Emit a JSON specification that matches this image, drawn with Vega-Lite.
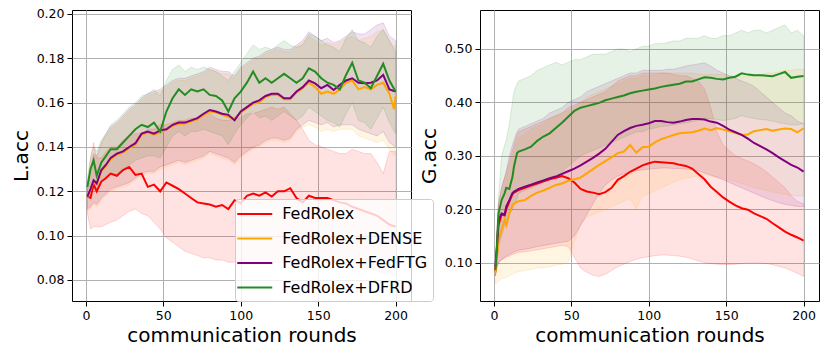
{
"$schema": "https://vega.github.io/schema/vega-lite/v6.json",
"padding": {"left": 10, "top": 7, "right": 5, "bottom": 5},
"config": {
  "font": "DejaVu Sans",
  "view": {"stroke": "black", "strokeWidth": 1},
  "axis": {"labelFont": "DejaVu Sans", "labelFontSize": 12.5, "labelColor": "black", "titleFont": "DejaVu Sans", "titleFontSize": 20, "titleFontWeight": "normal", "titleColor": "black", "tickColor": "black", "tickSize": 5, "tickWidth": 1, "labelPadding": 3, "domain": false, "gridColor": "#b0b0b0", "gridWidth": 1, "gridOpacity": 1, "labelFlush": false, "labelOverlap": false}
},
"datasets": {
"L": [
{"s":"R","r":1,"m":0.1176,"l":0.110,"h":0.121},{"s":"R","r":3,"m":0.117,"l":0.103,"h":0.135},{"s":"R","r":5,"m":0.123,"l":0.104,"h":0.142},{"s":"R","r":7,"m":0.120,"l":0.104,"h":0.135},{"s":"R","r":10,"m":0.1244,"l":0.104,"h":0.135},{"s":"R","r":13,"m":0.126,"l":0.105,"h":0.138},{"s":"R","r":16,"m":0.128,"l":0.106,"h":0.140},{"s":"R","r":20,"m":0.127,"l":0.107,"h":0.140},{"s":"R","r":24,"m":0.1296,"l":0.109,"h":0.143},{"s":"R","r":28,"m":0.131,"l":0.111,"h":0.145},{"s":"R","r":32,"m":0.1274,"l":0.112,"h":0.146},{"s":"R","r":36,"m":0.128,"l":0.110,"h":0.146},{"s":"R","r":40,"m":0.122,"l":0.109,"h":0.148},{"s":"R","r":44,"m":0.123,"l":0.106,"h":0.148},{"s":"R","r":48,"m":0.120,"l":0.103,"h":0.150},{"s":"R","r":52,"m":0.124,"l":0.099,"h":0.150},{"s":"R","r":56,"m":0.1225,"l":0.097,"h":0.151},{"s":"R","r":60,"m":0.121,"l":0.095,"h":0.152},{"s":"R","r":64,"m":0.119,"l":0.093,"h":0.152},{"s":"R","r":68,"m":0.117,"l":0.092,"h":0.153},{"s":"R","r":72,"m":0.115,"l":0.091,"h":0.153},{"s":"R","r":76,"m":0.1145,"l":0.090,"h":0.155},{"s":"R","r":80,"m":0.114,"l":0.090,"h":0.155},{"s":"R","r":84,"m":0.113,"l":0.089,"h":0.153},{"s":"R","r":88,"m":0.1138,"l":0.089,"h":0.152},{"s":"R","r":92,"m":0.112,"l":0.088,"h":0.152},{"s":"R","r":96,"m":0.116,"l":0.088,"h":0.153},{"s":"R","r":100,"m":0.1146,"l":0.088,"h":0.153},{"s":"R","r":104,"m":0.118,"l":0.088,"h":0.155},{"s":"R","r":108,"m":0.119,"l":0.088,"h":0.155},{"s":"R","r":112,"m":0.118,"l":0.088,"h":0.156},{"s":"R","r":116,"m":0.1195,"l":0.088,"h":0.157},{"s":"R","r":120,"m":0.1176,"l":0.088,"h":0.158},{"s":"R","r":124,"m":0.120,"l":0.088,"h":0.157},{"s":"R","r":128,"m":0.120,"l":0.088,"h":0.158},{"s":"R","r":132,"m":0.1214,"l":0.088,"h":0.155},{"s":"R","r":136,"m":0.117,"l":0.088,"h":0.152},{"s":"R","r":140,"m":0.115,"l":0.088,"h":0.148},{"s":"R","r":144,"m":0.118,"l":0.088,"h":0.143},{"s":"R","r":148,"m":0.117,"l":0.088,"h":0.141},{"s":"R","r":152,"m":0.117,"l":0.088,"h":0.140},{"s":"R","r":156,"m":0.117,"l":0.088,"h":0.139},{"s":"R","r":160,"m":0.116,"l":0.088,"h":0.138},{"s":"R","r":164,"m":0.115,"l":0.087,"h":0.137},{"s":"R","r":168,"m":0.1145,"l":0.087,"h":0.137},{"s":"R","r":172,"m":0.113,"l":0.086,"h":0.139},{"s":"R","r":176,"m":0.112,"l":0.086,"h":0.138},{"s":"R","r":180,"m":0.111,"l":0.085,"h":0.137},{"s":"R","r":184,"m":0.110,"l":0.085,"h":0.137},{"s":"R","r":188,"m":0.109,"l":0.084,"h":0.133},{"s":"R","r":192,"m":0.107,"l":0.083,"h":0.128},{"s":"R","r":196,"m":0.105,"l":0.083,"h":0.138},{"s":"R","r":200,"m":0.104,"l":0.082,"h":0.138},
{"s":"D","r":1,"m":0.1172,"l":0.111,"h":0.123},{"s":"D","r":3,"m":0.1205,"l":0.112,"h":0.130},{"s":"D","r":5,"m":0.1245,"l":0.114,"h":0.136},{"s":"D","r":7,"m":0.123,"l":0.113,"h":0.135},{"s":"D","r":10,"m":0.129,"l":0.116,"h":0.141},{"s":"D","r":13,"m":0.1315,"l":0.118,"h":0.145},{"s":"D","r":16,"m":0.1345,"l":0.120,"h":0.148},{"s":"D","r":20,"m":0.1365,"l":0.121,"h":0.150},{"s":"D","r":24,"m":0.1375,"l":0.122,"h":0.153},{"s":"D","r":28,"m":0.1395,"l":0.123,"h":0.156},{"s":"D","r":32,"m":0.141,"l":0.125,"h":0.158},{"s":"D","r":36,"m":0.1455,"l":0.127,"h":0.161},{"s":"D","r":40,"m":0.1465,"l":0.128,"h":0.163},{"s":"D","r":44,"m":0.1455,"l":0.128,"h":0.164},{"s":"D","r":48,"m":0.1465,"l":0.130,"h":0.165},{"s":"D","r":52,"m":0.1478,"l":0.131,"h":0.167},{"s":"D","r":56,"m":0.1495,"l":0.132,"h":0.169},{"s":"D","r":60,"m":0.1505,"l":0.133,"h":0.170},{"s":"D","r":64,"m":0.1505,"l":0.132,"h":0.170},{"s":"D","r":68,"m":0.1515,"l":0.133,"h":0.171},{"s":"D","r":72,"m":0.1525,"l":0.134,"h":0.172},{"s":"D","r":76,"m":0.1545,"l":0.135,"h":0.173},{"s":"D","r":80,"m":0.156,"l":0.137,"h":0.175},{"s":"D","r":84,"m":0.1555,"l":0.136,"h":0.174},{"s":"D","r":88,"m":0.1545,"l":0.135,"h":0.173},{"s":"D","r":92,"m":0.1535,"l":0.134,"h":0.173},{"s":"D","r":96,"m":0.153,"l":0.132,"h":0.171},{"s":"D","r":100,"m":0.1555,"l":0.135,"h":0.175},{"s":"D","r":104,"m":0.1575,"l":0.137,"h":0.177},{"s":"D","r":108,"m":0.1595,"l":0.139,"h":0.179},{"s":"D","r":112,"m":0.160,"l":0.140,"h":0.180},{"s":"D","r":116,"m":0.1625,"l":0.142,"h":0.182},{"s":"D","r":120,"m":0.1635,"l":0.143,"h":0.183},{"s":"D","r":124,"m":0.1635,"l":0.143,"h":0.184},{"s":"D","r":128,"m":0.1615,"l":0.142,"h":0.183},{"s":"D","r":132,"m":0.1615,"l":0.143,"h":0.183},{"s":"D","r":136,"m":0.1645,"l":0.147,"h":0.185},{"s":"D","r":140,"m":0.1665,"l":0.149,"h":0.187},{"s":"D","r":144,"m":0.169,"l":0.150,"h":0.190},{"s":"D","r":148,"m":0.167,"l":0.149,"h":0.188},{"s":"D","r":152,"m":0.164,"l":0.147,"h":0.186},{"s":"D","r":156,"m":0.165,"l":0.148,"h":0.187},{"s":"D","r":160,"m":0.164,"l":0.147,"h":0.186},{"s":"D","r":164,"m":0.166,"l":0.148,"h":0.187},{"s":"D","r":168,"m":0.169,"l":0.148,"h":0.189},{"s":"D","r":172,"m":0.170,"l":0.148,"h":0.190},{"s":"D","r":176,"m":0.166,"l":0.145,"h":0.188},{"s":"D","r":180,"m":0.167,"l":0.144,"h":0.189},{"s":"D","r":184,"m":0.166,"l":0.143,"h":0.190},{"s":"D","r":188,"m":0.168,"l":0.142,"h":0.192},{"s":"D","r":192,"m":0.169,"l":0.143,"h":0.193},{"s":"D","r":196,"m":0.164,"l":0.139,"h":0.188},{"s":"D","r":199,"m":0.157,"l":0.136,"h":0.185},{"s":"D","r":200,"m":0.163,"l":0.137,"h":0.186},
{"s":"F","r":1,"m":0.1176,"l":0.112,"h":0.123},{"s":"F","r":3,"m":0.121,"l":0.113,"h":0.130},{"s":"F","r":5,"m":0.125,"l":0.115,"h":0.137},{"s":"F","r":7,"m":0.1236,"l":0.114,"h":0.136},{"s":"F","r":10,"m":0.1296,"l":0.117,"h":0.142},{"s":"F","r":13,"m":0.132,"l":0.119,"h":0.146},{"s":"F","r":16,"m":0.135,"l":0.121,"h":0.149},{"s":"F","r":20,"m":0.137,"l":0.122,"h":0.151},{"s":"F","r":24,"m":0.138,"l":0.123,"h":0.154},{"s":"F","r":28,"m":0.140,"l":0.124,"h":0.157},{"s":"F","r":32,"m":0.1417,"l":0.126,"h":0.159},{"s":"F","r":36,"m":0.146,"l":0.128,"h":0.162},{"s":"F","r":40,"m":0.147,"l":0.129,"h":0.164},{"s":"F","r":44,"m":0.146,"l":0.129,"h":0.165},{"s":"F","r":48,"m":0.1475,"l":0.131,"h":0.166},{"s":"F","r":52,"m":0.148,"l":0.132,"h":0.168},{"s":"F","r":56,"m":0.150,"l":0.133,"h":0.170},{"s":"F","r":60,"m":0.151,"l":0.134,"h":0.171},{"s":"F","r":64,"m":0.151,"l":0.133,"h":0.171},{"s":"F","r":68,"m":0.152,"l":0.134,"h":0.172},{"s":"F","r":72,"m":0.153,"l":0.135,"h":0.173},{"s":"F","r":76,"m":0.155,"l":0.136,"h":0.174},{"s":"F","r":80,"m":0.1567,"l":0.138,"h":0.176},{"s":"F","r":84,"m":0.156,"l":0.137,"h":0.175},{"s":"F","r":88,"m":0.155,"l":0.136,"h":0.174},{"s":"F","r":92,"m":0.1545,"l":0.135,"h":0.174},{"s":"F","r":96,"m":0.152,"l":0.133,"h":0.172},{"s":"F","r":100,"m":0.156,"l":0.136,"h":0.176},{"s":"F","r":104,"m":0.158,"l":0.138,"h":0.178},{"s":"F","r":108,"m":0.160,"l":0.140,"h":0.180},{"s":"F","r":112,"m":0.161,"l":0.141,"h":0.181},{"s":"F","r":116,"m":0.163,"l":0.143,"h":0.183},{"s":"F","r":120,"m":0.164,"l":0.144,"h":0.184},{"s":"F","r":124,"m":0.164,"l":0.144,"h":0.185},{"s":"F","r":128,"m":0.162,"l":0.143,"h":0.184},{"s":"F","r":132,"m":0.162,"l":0.144,"h":0.184},{"s":"F","r":136,"m":0.165,"l":0.148,"h":0.186},{"s":"F","r":140,"m":0.167,"l":0.150,"h":0.188},{"s":"F","r":144,"m":0.170,"l":0.152,"h":0.192},{"s":"F","r":148,"m":0.1687,"l":0.151,"h":0.190},{"s":"F","r":152,"m":0.1665,"l":0.150,"h":0.188},{"s":"F","r":156,"m":0.168,"l":0.151,"h":0.189},{"s":"F","r":160,"m":0.1657,"l":0.149,"h":0.187},{"s":"F","r":164,"m":0.168,"l":0.150,"h":0.188},{"s":"F","r":168,"m":0.170,"l":0.150,"h":0.190},{"s":"F","r":172,"m":0.171,"l":0.150,"h":0.192},{"s":"F","r":176,"m":0.169,"l":0.148,"h":0.191},{"s":"F","r":180,"m":0.1687,"l":0.147,"h":0.191},{"s":"F","r":184,"m":0.169,"l":0.146,"h":0.193},{"s":"F","r":188,"m":0.170,"l":0.145,"h":0.195},{"s":"F","r":192,"m":0.1725,"l":0.147,"h":0.196},{"s":"F","r":196,"m":0.166,"l":0.142,"h":0.190},{"s":"F","r":200,"m":0.165,"l":0.140,"h":0.188},
{"s":"G","r":1,"m":0.122,"l":0.118,"h":0.126},{"s":"G","r":3,"m":0.130,"l":0.120,"h":0.135},{"s":"G","r":5,"m":0.134,"l":0.123,"h":0.140},{"s":"G","r":7,"m":0.127,"l":0.121,"h":0.138},{"s":"G","r":10,"m":0.133,"l":0.124,"h":0.143},{"s":"G","r":13,"m":0.136,"l":0.126,"h":0.146},{"s":"G","r":16,"m":0.139,"l":0.128,"h":0.150},{"s":"G","r":20,"m":0.139,"l":0.128,"h":0.152},{"s":"G","r":24,"m":0.142,"l":0.130,"h":0.155},{"s":"G","r":28,"m":0.145,"l":0.132,"h":0.158},{"s":"G","r":32,"m":0.148,"l":0.134,"h":0.160},{"s":"G","r":36,"m":0.150,"l":0.135,"h":0.163},{"s":"G","r":40,"m":0.149,"l":0.136,"h":0.164},{"s":"G","r":44,"m":0.151,"l":0.136,"h":0.166},{"s":"G","r":48,"m":0.147,"l":0.135,"h":0.163},{"s":"G","r":52,"m":0.156,"l":0.140,"h":0.170},{"s":"G","r":56,"m":0.162,"l":0.145,"h":0.175},{"s":"G","r":60,"m":0.166,"l":0.147,"h":0.177},{"s":"G","r":64,"m":0.1635,"l":0.145,"h":0.174},{"s":"G","r":68,"m":0.166,"l":0.147,"h":0.176},{"s":"G","r":72,"m":0.165,"l":0.147,"h":0.175},{"s":"G","r":76,"m":0.166,"l":0.148,"h":0.176},{"s":"G","r":80,"m":0.1635,"l":0.147,"h":0.175},{"s":"G","r":84,"m":0.163,"l":0.146,"h":0.174},{"s":"G","r":88,"m":0.161,"l":0.145,"h":0.172},{"s":"G","r":92,"m":0.156,"l":0.141,"h":0.170},{"s":"G","r":96,"m":0.162,"l":0.146,"h":0.174},{"s":"G","r":100,"m":0.165,"l":0.150,"h":0.178},{"s":"G","r":104,"m":0.169,"l":0.153,"h":0.182},{"s":"G","r":108,"m":0.174,"l":0.156,"h":0.186},{"s":"G","r":112,"m":0.169,"l":0.153,"h":0.184},{"s":"G","r":116,"m":0.171,"l":0.154,"h":0.185},{"s":"G","r":120,"m":0.169,"l":0.152,"h":0.184},{"s":"G","r":124,"m":0.171,"l":0.154,"h":0.186},{"s":"G","r":128,"m":0.173,"l":0.156,"h":0.188},{"s":"G","r":132,"m":0.171,"l":0.154,"h":0.186},{"s":"G","r":136,"m":0.169,"l":0.152,"h":0.185},{"s":"G","r":140,"m":0.171,"l":0.154,"h":0.186},{"s":"G","r":144,"m":0.1755,"l":0.158,"h":0.191},{"s":"G","r":148,"m":0.174,"l":0.156,"h":0.190},{"s":"G","r":152,"m":0.171,"l":0.154,"h":0.188},{"s":"G","r":156,"m":0.169,"l":0.152,"h":0.186},{"s":"G","r":160,"m":0.168,"l":0.151,"h":0.185},{"s":"G","r":164,"m":0.166,"l":0.149,"h":0.183},{"s":"G","r":168,"m":0.1725,"l":0.155,"h":0.189},{"s":"G","r":172,"m":0.178,"l":0.160,"h":0.193},{"s":"G","r":176,"m":0.170,"l":0.152,"h":0.188},{"s":"G","r":180,"m":0.169,"l":0.151,"h":0.187},{"s":"G","r":184,"m":0.1665,"l":0.148,"h":0.185},{"s":"G","r":188,"m":0.172,"l":0.153,"h":0.190},{"s":"G","r":192,"m":0.1775,"l":0.158,"h":0.193},{"s":"G","r":196,"m":0.170,"l":0.151,"h":0.188},{"s":"G","r":200,"m":0.165,"l":0.146,"h":0.183}
],
"G": [
{"s":"R","r":1,"m":0.083,"l":0.075,"h":0.095},{"s":"R","r":2,"m":0.125,"l":0.09,"h":0.16},{"s":"R","r":3,"m":0.17,"l":0.10,"h":0.21},{"s":"R","r":5,"m":0.19,"l":0.105,"h":0.24},{"s":"R","r":7,"m":0.188,"l":0.108,"h":0.26},{"s":"R","r":8,"m":0.2,"l":0.11,"h":0.27},{"s":"R","r":10,"m":0.214,"l":0.112,"h":0.29},{"s":"R","r":12,"m":0.228,"l":0.115,"h":0.31},{"s":"R","r":13,"m":0.231,"l":0.116,"h":0.32},{"s":"R","r":15,"m":0.234,"l":0.118,"h":0.34},{"s":"R","r":16,"m":0.236,"l":0.119,"h":0.345},{"s":"R","r":20,"m":0.240,"l":0.12,"h":0.35},{"s":"R","r":24,"m":0.244,"l":0.122,"h":0.355},{"s":"R","r":28,"m":0.248,"l":0.124,"h":0.36},{"s":"R","r":32,"m":0.252,"l":0.126,"h":0.365},{"s":"R","r":36,"m":0.256,"l":0.128,"h":0.37},{"s":"R","r":40,"m":0.259,"l":0.13,"h":0.375},{"s":"R","r":44,"m":0.262,"l":0.132,"h":0.38},{"s":"R","r":48,"m":0.258,"l":0.13,"h":0.39},{"s":"R","r":52,"m":0.250,"l":0.11,"h":0.395},{"s":"R","r":56,"m":0.238,"l":0.09,"h":0.40},{"s":"R","r":60,"m":0.233,"l":0.082,"h":0.405},{"s":"R","r":64,"m":0.231,"l":0.076,"h":0.41},{"s":"R","r":68,"m":0.228,"l":0.074,"h":0.415},{"s":"R","r":72,"m":0.232,"l":0.078,"h":0.42},{"s":"R","r":76,"m":0.240,"l":0.085,"h":0.43},{"s":"R","r":80,"m":0.255,"l":0.092,"h":0.44},{"s":"R","r":84,"m":0.262,"l":0.097,"h":0.445},{"s":"R","r":88,"m":0.270,"l":0.102,"h":0.45},{"s":"R","r":92,"m":0.276,"l":0.106,"h":0.45},{"s":"R","r":96,"m":0.282,"l":0.109,"h":0.455},{"s":"R","r":100,"m":0.286,"l":0.111,"h":0.455},{"s":"R","r":104,"m":0.289,"l":0.113,"h":0.455},{"s":"R","r":108,"m":0.288,"l":0.114,"h":0.455},{"s":"R","r":112,"m":0.287,"l":0.114,"h":0.455},{"s":"R","r":116,"m":0.286,"l":0.113,"h":0.452},{"s":"R","r":120,"m":0.283,"l":0.112,"h":0.45},{"s":"R","r":124,"m":0.281,"l":0.11,"h":0.45},{"s":"R","r":128,"m":0.276,"l":0.107,"h":0.445},{"s":"R","r":132,"m":0.266,"l":0.103,"h":0.44},{"s":"R","r":136,"m":0.256,"l":0.10,"h":0.425},{"s":"R","r":140,"m":0.242,"l":0.098,"h":0.39},{"s":"R","r":144,"m":0.232,"l":0.097,"h":0.345},{"s":"R","r":148,"m":0.222,"l":0.096,"h":0.32},{"s":"R","r":152,"m":0.214,"l":0.096,"h":0.31},{"s":"R","r":156,"m":0.207,"l":0.097,"h":0.30},{"s":"R","r":160,"m":0.2017,"l":0.098,"h":0.295},{"s":"R","r":164,"m":0.199,"l":0.099,"h":0.29},{"s":"R","r":168,"m":0.192,"l":0.099,"h":0.285},{"s":"R","r":172,"m":0.187,"l":0.099,"h":0.278},{"s":"R","r":176,"m":0.182,"l":0.098,"h":0.27},{"s":"R","r":180,"m":0.1736,"l":0.096,"h":0.26},{"s":"R","r":184,"m":0.166,"l":0.093,"h":0.25},{"s":"R","r":188,"m":0.158,"l":0.09,"h":0.24},{"s":"R","r":192,"m":0.152,"l":0.085,"h":0.225},{"s":"R","r":196,"m":0.147,"l":0.08,"h":0.215},{"s":"R","r":200,"m":0.141,"l":0.074,"h":0.21},
{"s":"D","r":1,"m":0.080,"l":0.06,"h":0.09},{"s":"D","r":2,"m":0.11,"l":0.062,"h":0.13},{"s":"D","r":3,"m":0.142,"l":0.065,"h":0.17},{"s":"D","r":5,"m":0.161,"l":0.07,"h":0.22},{"s":"D","r":7,"m":0.18,"l":0.07,"h":0.25},{"s":"D","r":8,"m":0.17,"l":0.072,"h":0.26},{"s":"D","r":10,"m":0.192,"l":0.075,"h":0.28},{"s":"D","r":12,"m":0.208,"l":0.078,"h":0.30},{"s":"D","r":13,"m":0.21,"l":0.08,"h":0.31},{"s":"D","r":15,"m":0.214,"l":0.082,"h":0.33},{"s":"D","r":16,"m":0.215,"l":0.083,"h":0.335},{"s":"D","r":20,"m":0.217,"l":0.085,"h":0.34},{"s":"D","r":24,"m":0.225,"l":0.087,"h":0.35},{"s":"D","r":28,"m":0.231,"l":0.09,"h":0.355},{"s":"D","r":32,"m":0.235,"l":0.09,"h":0.36},{"s":"D","r":36,"m":0.240,"l":0.092,"h":0.37},{"s":"D","r":40,"m":0.2454,"l":0.095,"h":0.375},{"s":"D","r":44,"m":0.248,"l":0.097,"h":0.38},{"s":"D","r":48,"m":0.253,"l":0.10,"h":0.385},{"s":"D","r":52,"m":0.256,"l":0.14,"h":0.39},{"s":"D","r":56,"m":0.259,"l":0.17,"h":0.40},{"s":"D","r":60,"m":0.267,"l":0.185,"h":0.41},{"s":"D","r":64,"m":0.275,"l":0.19,"h":0.415},{"s":"D","r":68,"m":0.283,"l":0.195,"h":0.42},{"s":"D","r":72,"m":0.290,"l":0.20,"h":0.425},{"s":"D","r":76,"m":0.297,"l":0.205,"h":0.43},{"s":"D","r":80,"m":0.305,"l":0.21,"h":0.435},{"s":"D","r":84,"m":0.308,"l":0.215,"h":0.44},{"s":"D","r":88,"m":0.32,"l":0.22,"h":0.445},{"s":"D","r":92,"m":0.306,"l":0.20,"h":0.445},{"s":"D","r":96,"m":0.316,"l":0.225,"h":0.45},{"s":"D","r":100,"m":0.317,"l":0.228,"h":0.45},{"s":"D","r":104,"m":0.325,"l":0.235,"h":0.452},{"s":"D","r":108,"m":0.331,"l":0.24,"h":0.455},{"s":"D","r":112,"m":0.335,"l":0.245,"h":0.455},{"s":"D","r":116,"m":0.339,"l":0.25,"h":0.455},{"s":"D","r":120,"m":0.342,"l":0.255,"h":0.455},{"s":"D","r":124,"m":0.343,"l":0.258,"h":0.455},{"s":"D","r":128,"m":0.344,"l":0.26,"h":0.455},{"s":"D","r":132,"m":0.347,"l":0.262,"h":0.453},{"s":"D","r":136,"m":0.351,"l":0.265,"h":0.452},{"s":"D","r":140,"m":0.348,"l":0.262,"h":0.452},{"s":"D","r":144,"m":0.352,"l":0.26,"h":0.452},{"s":"D","r":148,"m":0.349,"l":0.258,"h":0.452},{"s":"D","r":152,"m":0.346,"l":0.255,"h":0.45},{"s":"D","r":156,"m":0.343,"l":0.252,"h":0.45},{"s":"D","r":160,"m":0.339,"l":0.248,"h":0.448},{"s":"D","r":164,"m":0.340,"l":0.245,"h":0.448},{"s":"D","r":168,"m":0.346,"l":0.24,"h":0.45},{"s":"D","r":172,"m":0.348,"l":0.238,"h":0.452},{"s":"D","r":176,"m":0.350,"l":0.235,"h":0.455},{"s":"D","r":180,"m":0.347,"l":0.232,"h":0.455},{"s":"D","r":184,"m":0.349,"l":0.23,"h":0.457},{"s":"D","r":188,"m":0.351,"l":0.228,"h":0.46},{"s":"D","r":192,"m":0.350,"l":0.226,"h":0.46},{"s":"D","r":196,"m":0.344,"l":0.225,"h":0.462},{"s":"D","r":200,"m":0.3515,"l":0.225,"h":0.462},
{"s":"F","r":1,"m":0.0925,"l":0.075,"h":0.10},{"s":"F","r":2,"m":0.13,"l":0.09,"h":0.16},{"s":"F","r":3,"m":0.18,"l":0.10,"h":0.21},{"s":"F","r":5,"m":0.192,"l":0.105,"h":0.24},{"s":"F","r":7,"m":0.19,"l":0.11,"h":0.26},{"s":"F","r":8,"m":0.205,"l":0.112,"h":0.27},{"s":"F","r":10,"m":0.217,"l":0.115,"h":0.30},{"s":"F","r":12,"m":0.23,"l":0.118,"h":0.32},{"s":"F","r":13,"m":0.233,"l":0.12,"h":0.33},{"s":"F","r":15,"m":0.236,"l":0.122,"h":0.345},{"s":"F","r":16,"m":0.238,"l":0.123,"h":0.35},{"s":"F","r":20,"m":0.242,"l":0.125,"h":0.355},{"s":"F","r":24,"m":0.246,"l":0.127,"h":0.36},{"s":"F","r":28,"m":0.250,"l":0.13,"h":0.365},{"s":"F","r":32,"m":0.254,"l":0.132,"h":0.37},{"s":"F","r":36,"m":0.258,"l":0.134,"h":0.38},{"s":"F","r":40,"m":0.261,"l":0.136,"h":0.385},{"s":"F","r":44,"m":0.266,"l":0.138,"h":0.39},{"s":"F","r":48,"m":0.271,"l":0.14,"h":0.40},{"s":"F","r":52,"m":0.276,"l":0.15,"h":0.405},{"s":"F","r":56,"m":0.282,"l":0.17,"h":0.41},{"s":"F","r":60,"m":0.289,"l":0.19,"h":0.42},{"s":"F","r":64,"m":0.296,"l":0.21,"h":0.425},{"s":"F","r":68,"m":0.304,"l":0.23,"h":0.43},{"s":"F","r":72,"m":0.313,"l":0.245,"h":0.435},{"s":"F","r":76,"m":0.326,"l":0.255,"h":0.44},{"s":"F","r":80,"m":0.339,"l":0.262,"h":0.445},{"s":"F","r":84,"m":0.346,"l":0.266,"h":0.45},{"s":"F","r":88,"m":0.352,"l":0.27,"h":0.455},{"s":"F","r":92,"m":0.356,"l":0.272,"h":0.455},{"s":"F","r":96,"m":0.358,"l":0.274,"h":0.46},{"s":"F","r":100,"m":0.361,"l":0.275,"h":0.46},{"s":"F","r":104,"m":0.365,"l":0.276,"h":0.46},{"s":"F","r":108,"m":0.365,"l":0.277,"h":0.46},{"s":"F","r":112,"m":0.363,"l":0.277,"h":0.462},{"s":"F","r":116,"m":0.362,"l":0.276,"h":0.462},{"s":"F","r":120,"m":0.364,"l":0.276,"h":0.465},{"s":"F","r":124,"m":0.367,"l":0.275,"h":0.468},{"s":"F","r":128,"m":0.369,"l":0.274,"h":0.47},{"s":"F","r":132,"m":0.369,"l":0.272,"h":0.472},{"s":"F","r":136,"m":0.368,"l":0.268,"h":0.474},{"s":"F","r":140,"m":0.364,"l":0.264,"h":0.468},{"s":"F","r":144,"m":0.362,"l":0.26,"h":0.46},{"s":"F","r":148,"m":0.356,"l":0.255,"h":0.455},{"s":"F","r":152,"m":0.349,"l":0.25,"h":0.45},{"s":"F","r":156,"m":0.344,"l":0.245,"h":0.445},{"s":"F","r":160,"m":0.339,"l":0.24,"h":0.44},{"s":"F","r":164,"m":0.332,"l":0.235,"h":0.436},{"s":"F","r":168,"m":0.324,"l":0.23,"h":0.43},{"s":"F","r":172,"m":0.318,"l":0.225,"h":0.42},{"s":"F","r":176,"m":0.312,"l":0.22,"h":0.41},{"s":"F","r":180,"m":0.305,"l":0.216,"h":0.40},{"s":"F","r":184,"m":0.297,"l":0.212,"h":0.39},{"s":"F","r":188,"m":0.290,"l":0.209,"h":0.38},{"s":"F","r":192,"m":0.283,"l":0.207,"h":0.375},{"s":"F","r":196,"m":0.278,"l":0.205,"h":0.365},{"s":"F","r":200,"m":0.2704,"l":0.205,"h":0.36},
{"s":"G","r":1,"m":0.086,"l":0.08,"h":0.095},{"s":"G","r":2,"m":0.13,"l":0.10,"h":0.16},{"s":"G","r":3,"m":0.192,"l":0.13,"h":0.22},{"s":"G","r":5,"m":0.217,"l":0.15,"h":0.30},{"s":"G","r":7,"m":0.23,"l":0.17,"h":0.32},{"s":"G","r":8,"m":0.24,"l":0.18,"h":0.33},{"s":"G","r":10,"m":0.238,"l":0.19,"h":0.36},{"s":"G","r":12,"m":0.26,"l":0.20,"h":0.40},{"s":"G","r":13,"m":0.28,"l":0.21,"h":0.42},{"s":"G","r":15,"m":0.305,"l":0.22,"h":0.435},{"s":"G","r":16,"m":0.308,"l":0.23,"h":0.44},{"s":"G","r":20,"m":0.312,"l":0.235,"h":0.445},{"s":"G","r":24,"m":0.317,"l":0.24,"h":0.45},{"s":"G","r":28,"m":0.328,"l":0.245,"h":0.46},{"s":"G","r":32,"m":0.336,"l":0.25,"h":0.465},{"s":"G","r":36,"m":0.342,"l":0.255,"h":0.47},{"s":"G","r":40,"m":0.352,"l":0.26,"h":0.475},{"s":"G","r":44,"m":0.362,"l":0.27,"h":0.47},{"s":"G","r":48,"m":0.373,"l":0.28,"h":0.475},{"s":"G","r":52,"m":0.384,"l":0.29,"h":0.48},{"s":"G","r":56,"m":0.39,"l":0.30,"h":0.48},{"s":"G","r":60,"m":0.393,"l":0.305,"h":0.485},{"s":"G","r":64,"m":0.396,"l":0.31,"h":0.49},{"s":"G","r":68,"m":0.399,"l":0.315,"h":0.49},{"s":"G","r":72,"m":0.404,"l":0.32,"h":0.49},{"s":"G","r":76,"m":0.407,"l":0.325,"h":0.495},{"s":"G","r":80,"m":0.41,"l":0.33,"h":0.50},{"s":"G","r":84,"m":0.413,"l":0.335,"h":0.50},{"s":"G","r":88,"m":0.417,"l":0.34,"h":0.495},{"s":"G","r":92,"m":0.42,"l":0.345,"h":0.50},{"s":"G","r":96,"m":0.422,"l":0.345,"h":0.505},{"s":"G","r":100,"m":0.424,"l":0.35,"h":0.505},{"s":"G","r":104,"m":0.426,"l":0.352,"h":0.51},{"s":"G","r":108,"m":0.429,"l":0.355,"h":0.51},{"s":"G","r":112,"m":0.431,"l":0.356,"h":0.512},{"s":"G","r":116,"m":0.433,"l":0.358,"h":0.515},{"s":"G","r":120,"m":0.435,"l":0.36,"h":0.515},{"s":"G","r":124,"m":0.439,"l":0.362,"h":0.52},{"s":"G","r":128,"m":0.439,"l":0.364,"h":0.52},{"s":"G","r":132,"m":0.443,"l":0.366,"h":0.52},{"s":"G","r":136,"m":0.447,"l":0.37,"h":0.525},{"s":"G","r":140,"m":0.446,"l":0.37,"h":0.52},{"s":"G","r":144,"m":0.444,"l":0.368,"h":0.52},{"s":"G","r":148,"m":0.443,"l":0.366,"h":0.525},{"s":"G","r":152,"m":0.446,"l":0.368,"h":0.525},{"s":"G","r":156,"m":0.448,"l":0.37,"h":0.53},{"s":"G","r":160,"m":0.4545,"l":0.375,"h":0.535},{"s":"G","r":164,"m":0.452,"l":0.372,"h":0.53},{"s":"G","r":168,"m":0.451,"l":0.37,"h":0.535},{"s":"G","r":172,"m":0.451,"l":0.368,"h":0.535},{"s":"G","r":176,"m":0.450,"l":0.367,"h":0.53},{"s":"G","r":180,"m":0.449,"l":0.365,"h":0.535},{"s":"G","r":184,"m":0.453,"l":0.362,"h":0.54},{"s":"G","r":188,"m":0.457,"l":0.36,"h":0.545},{"s":"G","r":192,"m":0.446,"l":0.358,"h":0.53},{"s":"G","r":196,"m":0.448,"l":0.358,"h":0.535},{"s":"G","r":200,"m":0.4495,"l":0.36,"h":0.525}
]
},
"spacing": 69,
"bounds": "flush",
"resolve": {"scale": {"color": "independent"}, "legend": {"color": "independent"}},
"hconcat": [
{
  "width": 339, "height": 291,
  "data": {"name": "L"},
  "encoding": {
    "x": {"field": "r", "type": "quantitative", "scale": {"domain": [-8.95, 209.95], "nice": false, "zero": false}, "axis": {"values": [0, 50, 100, 150, 200], "title": "communication rounds", "titlePadding": 4}}
  },
  "layer": [
    {
      "mark": {"type": "area", "fillOpacity": 0.11, "strokeOpacity": 0.15, "strokeWidth": 1},
      "encoding": {
        "y": {"field": "l", "type": "quantitative", "scale": {"domain": [0.0705, 0.2018], "nice": false, "zero": false}, "axis": {"values": [0.08, 0.10, 0.12, 0.14, 0.16, 0.18, 0.20], "format": ".2f", "title": "L.acc", "titlePadding": 5}},
        "y2": {"field": "h"},
        "fill": {"field": "s", "type": "nominal", "scale": {"domain": ["R", "D", "F", "G"], "range": ["#ff0000", "#ffa500", "#800080", "#228b22"]}, "legend": null},
        "stroke": {"field": "s", "type": "nominal", "scale": {"domain": ["R", "D", "F", "G"], "range": ["#ff0000", "#ffa500", "#800080", "#228b22"]}, "legend": null}
      }
    },
    {
      "mark": {"type": "line", "strokeWidth": 2},
      "encoding": {
        "y": {"field": "m", "type": "quantitative", "title": "L.acc"},
        "color": {"field": "s", "type": "nominal", "scale": {"domain": ["R", "D", "F", "G"], "range": ["#ff0000", "#ffa500", "#800080", "#228b22"]},
          "legend": {"orient": "none", "legendX": 163, "legendY": 189, "direction": "vertical", "title": null, "symbolType": "M-2,0H2", "symbolSize": 306.25, "symbolOffset": 4.75, "symbolStrokeWidth": 2, "labelFontSize": 16, "labelFont": "DejaVu Sans", "labelColor": "black", "labelOffset": 17.5, "rowPadding": 6.5, "padding": 5, "fillColor": "rgba(255,255,255,0.8)", "strokeColor": "#cccccc", "cornerRadius": 3,
            "labelExpr": "{'R':'FedRolex','D':'FedRolex+DENSE','F':'FedRolex+FedFTG','G':'FedRolex+DFRD'}[datum.label]"}}
      }
    }
  ]
},
{
  "width": 339, "height": 291,
  "data": {"name": "G"},
  "encoding": {
    "x": {"field": "r", "type": "quantitative", "scale": {"domain": [-8.95, 209.95], "nice": false, "zero": false}, "axis": {"values": [0, 50, 100, 150, 200], "title": "communication rounds", "titlePadding": 4}}
  },
  "layer": [
    {
      "mark": {"type": "area", "fillOpacity": 0.11, "strokeOpacity": 0.15, "strokeWidth": 1},
      "encoding": {
        "y": {"field": "l", "type": "quantitative", "scale": {"domain": [0.028, 0.573], "nice": false, "zero": false}, "axis": {"values": [0.1, 0.2, 0.3, 0.4, 0.5], "format": ".2f", "title": "G.acc", "titlePadding": 5}},
        "y2": {"field": "h"},
        "fill": {"field": "s", "type": "nominal", "scale": {"domain": ["R", "D", "F", "G"], "range": ["#ff0000", "#ffa500", "#800080", "#228b22"]}, "legend": null},
        "stroke": {"field": "s", "type": "nominal", "scale": {"domain": ["R", "D", "F", "G"], "range": ["#ff0000", "#ffa500", "#800080", "#228b22"]}, "legend": null}
      }
    },
    {
      "mark": {"type": "line", "strokeWidth": 2},
      "encoding": {
        "y": {"field": "m", "type": "quantitative", "title": "G.acc"},
        "color": {"field": "s", "type": "nominal", "scale": {"domain": ["R", "D", "F", "G"], "range": ["#ff0000", "#ffa500", "#800080", "#228b22"]}, "legend": null}
      }
    }
  ]
}
]
}
